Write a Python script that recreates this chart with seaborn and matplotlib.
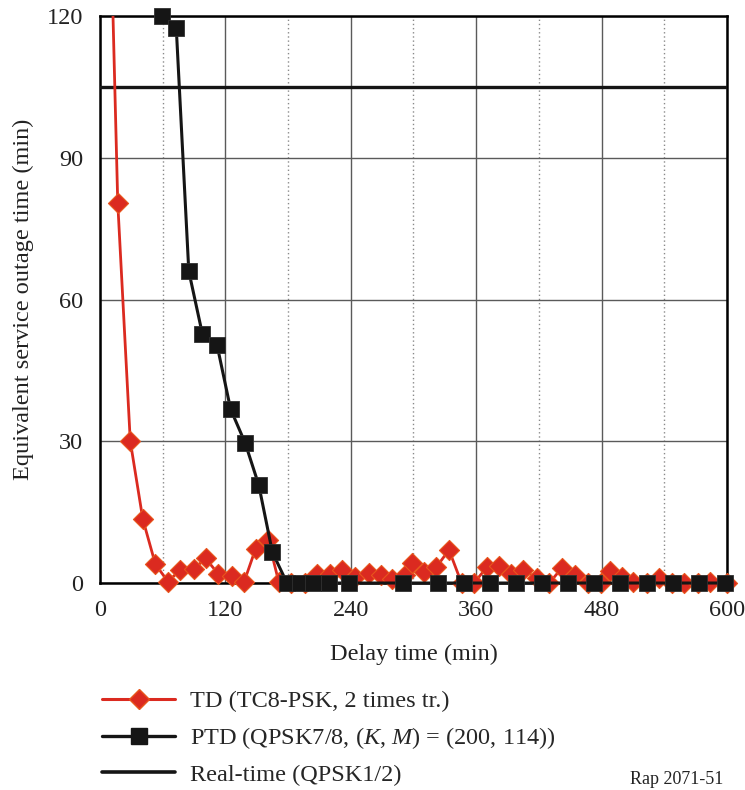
import matplotlib
matplotlib.use("Agg")
from matplotlib import pyplot as plt
from matplotlib.lines import Line2D
import pandas as pd
import seaborn as sns

# TD (TC8-PSK, 2 times tr.)
td_delay = [5, 17, 29, 41, 53, 65, 77, 90, 101, 113, 126, 138, 149, 161, 171,
            183, 196, 208, 220, 232, 244, 257, 269, 279, 292, 299, 310, 322,
            334, 346, 358, 370, 382, 393, 405, 418, 430, 442, 455, 467, 479,
            488, 500, 510, 523, 535, 547, 559, 572, 584, 600]
td_outage = [185, 80.5, 30, 13.5, 4, 0.3, 2.8, 3, 5.2, 2, 1.5, 0.3, 7.3, 9.2,
             0.3, 0, 0, 1.9, 1.9, 2.8, 1.3, 2.2, 1.7, 0.8, 1.7, 4.2, 2.4, 3.4,
             7.0, 0, 0, 3.3, 3.5, 2, 2.8, 1, 0, 3.2, 1.7, 0, 0, 2.5, 1.3, 0.3,
             0, 1, 0, 0, 0, 0.3, 0]

# PTD (QPSK7/8, (K, M) = (200, 114))
ptd_delay = [59, 73, 85, 98, 112, 125, 139, 152, 165, 179, 191, 204, 219, 238,
             290, 323, 348, 373, 398, 423, 448, 473, 498, 523, 548, 573, 598]
ptd_outage = [120, 117.5, 66, 52.7, 50.4, 36.8, 29.6, 20.7, 6.5, 0, 0, 0, 0, 0,
              0, 0, 0, 0, 0, 0, 0, 0, 0, 0, 0, 0, 0]

# Real-time (QPSK1/2)
realtime_outage = 105

labels = ["TD (TC8-PSK, 2 times tr.)",
          "PTD (QPSK7/8, ($K$, $M$) = (200, 114))",
          "Real-time (QPSK1/2)"]
x_ticks = [0, 120, 240, 360, 480, 600]
x_minor = [60, 180, 300, 420, 540]
y_ticks = [0, 30, 60, 90, 120]

RED = "#db2a20"
EDGE = "#e8561c"
BLACK = "#151515"
TXT = "#222222"
FS = 17.5

sns.set_theme(style="white")
plt.rcParams["font.family"] = ["Liberation Serif", "DejaVu Serif"]
plt.rcParams["mathtext.fontset"] = "custom"
plt.rcParams["mathtext.rm"] = "Liberation Serif"
plt.rcParams["mathtext.it"] = "Liberation Serif:italic"

td = pd.DataFrame({"delay": td_delay, "outage": td_outage})
ptd = pd.DataFrame({"delay": ptd_delay, "outage": ptd_outage})

fig = plt.figure(figsize=(7.45, 7.9), dpi=100)
ax = fig.add_axes([0.1342, 0.2620, 0.8416, 0.7177])

ax.axhline(realtime_outage, color=BLACK, lw=2.4, zorder=3)

# TD line clipped at the top, markers left unclipped like the original
sns.lineplot(data=td, x="delay", y="outage", ax=ax, color=RED, lw=2,
             sort=False, zorder=4)
sns.scatterplot(data=td[td.outage <= 120], x="delay", y="outage", ax=ax,
                marker="D", s=105, color=RED, edgecolor=EDGE, linewidth=0.8,
                clip_on=False, zorder=5)

sns.lineplot(data=ptd, x="delay", y="outage", ax=ax, color=BLACK, lw=2.2,
             marker="s", markersize=11, markeredgecolor="#303030",
             markeredgewidth=0.6, sort=False, clip_on=False, zorder=6)

ax.set_xlim(0, 600)
ax.set_ylim(0, 120)
ax.set_xticks(x_ticks)
ax.set_xticks(x_minor, minor=True)
ax.set_yticks(y_ticks)
ax.grid(which="major", color="#5a5a5a", lw=1)
ax.grid(which="minor", axis="x", color="#8a8a8a", lw=1, ls=(0, (1, 2)))
ax.set_axisbelow(True)
for s in ax.spines.values():
    s.set_color("black")
    s.set_linewidth(1.8)
ax.tick_params(which="both", length=0, labelsize=FS, colors=TXT)
ax.tick_params(axis="x", pad=12)
ax.tick_params(axis="y", pad=12)

ax.set_xlabel("Delay time (min)", fontsize=FS, color=TXT, labelpad=17)
ax.set_ylabel("Equivalent service outage time (min)", fontsize=FS,
              color=TXT, labelpad=9)

handles = [
    Line2D([], [], color=RED, lw=2.2, marker="D", markersize=10,
           markerfacecolor=RED, markeredgecolor=EDGE),
    Line2D([], [], color=BLACK, lw=2.4, marker="s", markersize=11),
    Line2D([], [], color=BLACK, lw=2.6),
]
ax.legend(handles, labels, loc="upper left", bbox_to_anchor=(0.137, 0.126),
          bbox_transform=fig.transFigure, frameon=False, fontsize=FS,
          handlelength=3.0, handletextpad=0.62, labelspacing=0.52,
          borderaxespad=0, borderpad=0)

fig.text(0.846, 0.002, "Rap 2071-51", fontsize=13, color=TXT, va="bottom")

fig.savefig("out.png", dpi=100)
